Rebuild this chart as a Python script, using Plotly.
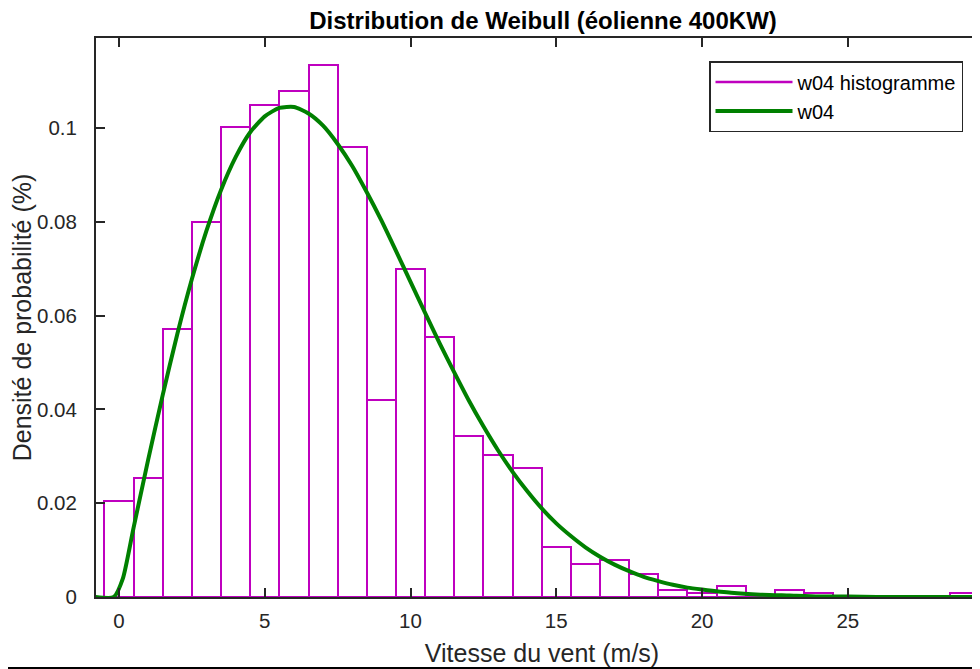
import plotly.graph_objects as go

# ---- data ----
bin_centers = list(range(0, 30))
hist_density = [0.0205, 0.0253, 0.0571, 0.0800, 0.1002, 0.1050, 0.1078, 0.1135, 0.0960, 0.0420,
                0.0700, 0.0554, 0.0344, 0.0302, 0.0275, 0.0106, 0.0071, 0.0078, 0.0050, 0.0015,
                0.0008, 0.0023, 0.0002, 0.0016, 0.0009, 0.0, 0.0, 0.0, 0.0, 0.0009]

curve_x = [-0.8, -0.18, 0.13, 0.5, 1, 1.5, 2, 2.5, 3, 3.5, 4, 4.5, 5, 5.5, 6, 6.5, 7, 7.5, 8, 8.5,
           9, 9.5, 10, 10.5, 11, 11.5, 12, 12.5, 13, 13.5, 14, 14.5, 15, 15.5, 16, 16.5, 17, 17.5,
           18, 18.5, 19, 19.5, 20, 21, 22, 23, 24, 25, 26, 27, 28, 29, 30]
curve_y = [0.0, 0.0, 0.0039, 0.0148, 0.0293, 0.0431, 0.0561, 0.0678, 0.0781, 0.0868, 0.0938,
           0.0991, 0.1025, 0.1043, 0.1045, 0.1031, 0.1005, 0.0966, 0.0919, 0.0863, 0.0803,
           0.0738, 0.0672, 0.0606, 0.0541, 0.0479, 0.0419, 0.0364, 0.0313, 0.0267, 0.0226,
           0.0189, 0.0157, 0.0130, 0.0106, 0.0086, 0.0069, 0.0055, 0.0043, 0.0034, 0.0026,
           0.0020, 0.0016, 0.0009, 0.0005, 0.0003, 0.0001, 0.0001, 0.0, 0.0, 0.0, 0.0, 0.0]

x_tick_vals = [0, 5, 10, 15, 20, 25]
x_tick_text = ["0", "5", "10", "15", "20", "25"]
y_tick_vals = [0, 0.02, 0.04, 0.06, 0.08, 0.1]
y_tick_text = ["0", "0.02", "0.04", "0.06", "0.08", "0.1"]

title_text = "Distribution de Weibull (éolienne 400KW)"
x_label = "Vitesse du vent (m/s)"
y_label = "Densité de probabilité (%)"
hist_name = "w04 histogramme"
curve_name = "w04"

# ---- style ----
MAGENTA = "#BF00BF"
GREEN = "#008000"
AXC = "#262626"
FONT = "Liberation Sans, Arial, sans-serif"

# the page body has an 8px margin, so figure coords = screen coords - 8
W, H = 980, 669
L, T = 88, 30
PB = 589                      # plot bottom (figure px)
B = H - PB
PW, PH = W - L, PB - T

fig = go.Figure()

fig.add_trace(go.Bar(
    x=bin_centers, y=hist_density, width=1,
    marker=dict(color="rgba(255,255,255,0)", line=dict(color=MAGENTA, width=2)),
    showlegend=False, name=hist_name, hoverinfo="x+y",
))
# legend entry for the histogram drawn as a line (MATLAB style)
fig.add_trace(go.Scatter(
    x=[None], y=[None], mode="lines", name=hist_name,
    line=dict(color=MAGENTA, width=2.5),
))
fig.add_trace(go.Scatter(
    x=curve_x, y=curve_y, mode="lines", name=curve_name,
    line=dict(color=GREEN, width=4, shape="spline", smoothing=0.6),
))

fig.update_layout(
    width=W, height=H,
    margin=dict(l=L, r=0, t=T, b=B, autoexpand=False),
    paper_bgcolor="white", plot_bgcolor="white",
    font=dict(family=FONT, size=20, color=AXC),
    title=dict(text="<b>" + title_text + "</b>", x=535 / W, xanchor="center",
               xref="container", y=1 - 13 / H, yanchor="middle", yref="container",
               font=dict(size=24, color="black")),
    bargap=0,
    showlegend=True,
    legend=dict(
        x=(701 - L) / PW, xanchor="left", y=(PB - 53) / PH, yanchor="top",
        bgcolor="white", bordercolor=AXC, borderwidth=1.5,
        font=dict(size=20, color="black"), tracegroupgap=0, itemwidth=77,
    ),
    xaxis=dict(
        range=[-0.79, 29.81], tickvals=x_tick_vals, ticktext=x_tick_text,
        ticks="inside", ticklen=9, tickwidth=1.5, tickcolor=AXC,
        showline=True, linecolor=AXC, linewidth=2, mirror="ticks",
        showgrid=False, zeroline=False, ticklabelstandoff=4, automargin=False,
        tickfont=dict(size=20.5),
        title=dict(text=x_label, font=dict(size=25, color=AXC), standoff=14),
    ),
    yaxis=dict(
        range=[0, 0.1192], tickvals=y_tick_vals, ticktext=y_tick_text,
        ticks="inside", ticklen=9, tickwidth=1.5, tickcolor=AXC,
        showline=True, linecolor=AXC, linewidth=2, mirror="ticks",
        showgrid=False, zeroline=False, ticklabelstandoff=13, automargin=False,
        tickfont=dict(size=20.5),
        title=dict(text=y_label, font=dict(size=25, color=AXC), standoff=1),
    ),
    shapes=[dict(type="rect", xref="paper", yref="paper", x0=-0.2, x1=1.1,
                 y0=-(659 - PB) / PH, y1=-0.3, fillcolor="black", line=dict(width=0),
                 layer="above")],
)

fig.write_html("out.html")
